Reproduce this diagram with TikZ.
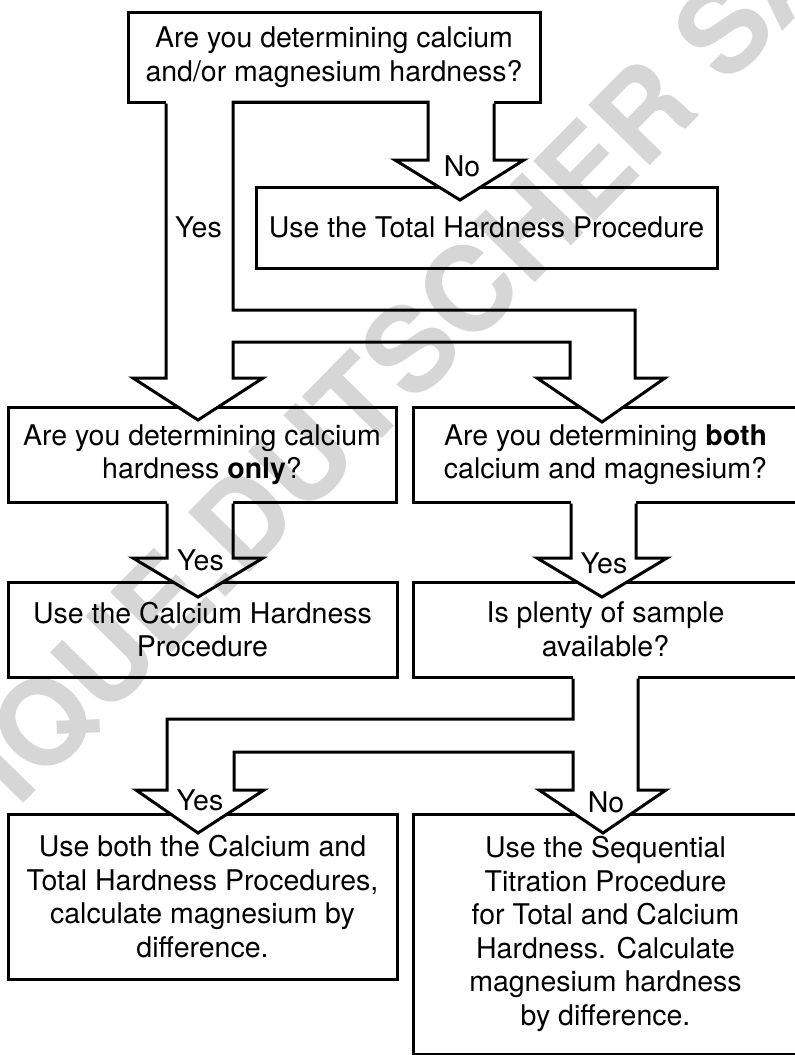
\documentclass[tikz,border=0pt]{standalone}
\usepackage{fontspec}
\setmainfont{TeX Gyre Heros}
\newcommand{\fs}{\fontsize{28.5}{33.5}\selectfont}
\newcommand{\wmf}{\fontsize{118}{120}\selectfont\bfseries}
\begin{document}
\begin{tikzpicture}[x=1pt,y=-1pt,
  box/.style={draw, line width=3pt, inner sep=0pt, align=center, font=\fs},
  tube/.style={draw, line width=3pt, line join=miter, miter limit=10},
  tubefill/.style={fill=white, draw=none},
  lbl/.style={inner sep=0pt, font=\fs},
  wm/.style={inner sep=0pt, font=\wmf, text=black!16}]
\useasboundingbox (0,0) rectangle (795,1055);
\clip (0,0) rectangle (795,1055);
\fill[white] (0,0) rectangle (795,1055);

% boxes
\node[box, minimum width=412pt, minimum height=90pt] (q1) at (334,57)
  {Are you determining calcium\\and/or magnesium hardness?};
\node[box, minimum width=461pt, minimum height=81pt] (tot) at (486.5,227.5)
  {Use the Total Hardness Procedure};
\node[box, minimum width=388pt, minimum height=95pt] (q2) at (202,454.5)
  {Are you determining calcium\\hardness \textbf{only}?};
\node[box, minimum width=385pt, minimum height=95pt] (q3) at (605.5,454.5)
  {Are you determining \textbf{both}\\calcium and magnesium?};
\node[box, minimum width=389pt, minimum height=95pt] (ca) at (202.5,629.5)
  {Use the Calcium Hardness\\Procedure};
\node[box, minimum width=385pt, minimum height=95pt] (q4) at (605.5,629.5)
  {Is plenty of sample\\available?};
\node[box, minimum width=389pt, minimum height=165pt] (both) at (202.5,896.5)
  {Use both the Calcium and\\Total Hardness Procedures,\\calculate magnesium by\\difference.};
\node[box, minimum width=385pt, minimum height=240pt] (seq) at (605.5,934)
  {Use the Sequential\\Titration Procedure\\for Total and Calcium\\Hardness. Calculate\\magnesium hardness\\by difference.};

% tube from q1: Yes to q2, to q3, No to tot
\path[tubefill] (q1.south -| 166,0) -- (166,378) -- (133,378) -- (198,420) -- (263,378)
  -- (233,378) -- (233,342) -- (570,342) -- (570,378) -- (537,378) -- (602,422)
  -- (665,378) -- (635,378) -- (635,310) -- (233,310) -- (233,102) -- (428,102)
  -- (428,160) -- (395,160) -- (460,200) -- (524,160) -- (494,160) -- (q1.south -| 494,0)
  -- (494,98) -- (166,98) -- cycle;
\draw[tube] (q1.south -| 166,0) -- (166,378) -- (133,378) -- (198,420) -- (263,378)
  -- (233,378) -- (233,342) -- (570,342) -- (570,378) -- (537,378) -- (602,422)
  -- (665,378) -- (635,378) -- (635,310) -- (233,310) -- (233,102) -- (428,102)
  -- (428,160) -- (395,160) -- (460,200) -- (524,160) -- (494,160) -- (q1.south -| 494,0);

% q2 -> ca
\path[tubefill] (q2.south -| 167,0) -- (167,558) -- (133,558) -- (198,597) -- (263,558)
  -- (233,558) -- (q2.south -| 233,0) -- (233,498) -- (167,498) -- cycle;
\draw[tube] (q2.south -| 167,0) -- (167,558) -- (133,558) -- (198,597) -- (263,558)
  -- (233,558) -- (q2.south -| 233,0);

% q3 -> q4
\path[tubefill] (q3.south -| 571,0) -- (571,558) -- (537,558) -- (602,597) -- (667,558)
  -- (636,558) -- (q3.south -| 636,0) -- (636,498) -- (571,498) -- cycle;
\draw[tube] (q3.south -| 571,0) -- (571,558) -- (537,558) -- (602,597) -- (667,558)
  -- (636,558) -- (q3.south -| 636,0);

% q4 -> both / seq
\path[tubefill] (q4.south -| 573,0) -- (573,719) -- (167,719) -- (167,790) -- (136,790)
  -- (198,833) -- (264,790) -- (234,790) -- (234,752) -- (573,752) -- (573,790)
  -- (539,790) -- (603,833) -- (666,790) -- (638,790) -- (q4.south -| 638,0)
  -- (638,673) -- (573,673) -- cycle;
\draw[tube] (q4.south -| 573,0) -- (573,719) -- (167,719) -- (167,790) -- (136,790)
  -- (198,833) -- (264,790) -- (234,790) -- (234,752) -- (573,752) -- (573,790)
  -- (539,790) -- (603,833) -- (666,790) -- (638,790) -- (q4.south -| 638,0);

% labels
\node[lbl] (l1) at (462,166) {No};
\node[lbl] (l2) at (198.5,227) {Yes};
\node[lbl] (l3) at (200.5,560) {Yes};
\node[lbl] (l4) at (604,563) {Yes};
\node[lbl] (l5) at (200,800) {Yes};
\node[lbl] (l6) at (606,802) {No};

% watermark
\begin{scope}[blend mode=multiply]
\node[wm, rotate=45.5, anchor=base west] (wmk) at (18.1,808.9) {IQUE.DUTSCHER SA};
\end{scope}
\end{tikzpicture}
\end{document}
